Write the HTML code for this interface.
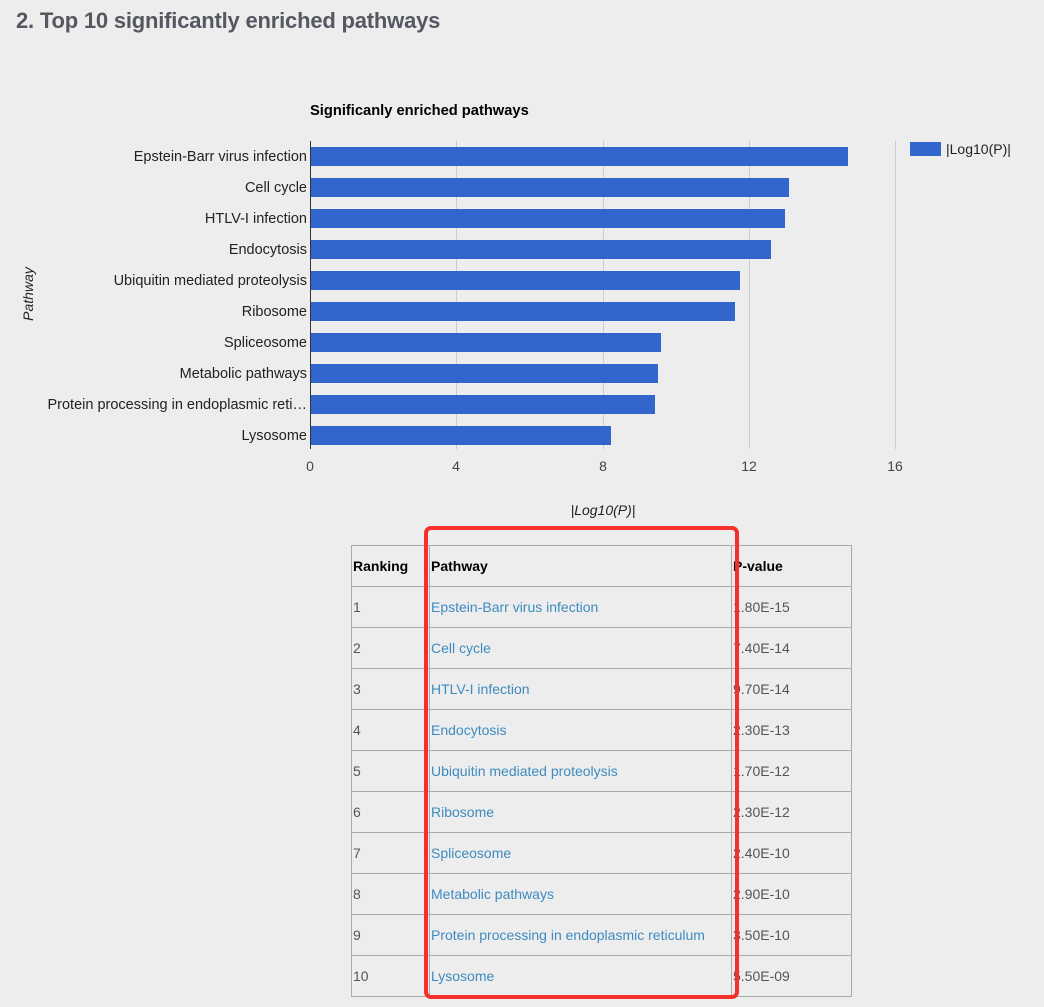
<!DOCTYPE html>
<html><head><style>
body{margin:0;width:1044px;height:1007px;background:#ededed;font-family:"Liberation Sans",sans-serif;position:relative;overflow:hidden}
h2{position:absolute;left:16px;top:8px;margin:0;font-size:22px;font-weight:bold;color:#555860;letter-spacing:-0.2px}
table{position:absolute;left:351px;top:545px;border-collapse:collapse;font-size:14px;color:#555;table-layout:fixed}
td,th{border:1px solid #aaa;height:40px;padding:0 0 0 1px;text-align:left;vertical-align:middle;white-space:nowrap;overflow:hidden}
th{color:#000;font-weight:bold}
td a{color:#3d8bbf;text-decoration:none}
.box{position:absolute;left:424px;top:526px;width:307px;height:465px;border:4px solid #f4302a;border-radius:7px}
</style></head><body>
<h2>2. Top 10 significantly enriched pathways</h2>
<svg width="1044" height="520" style="position:absolute;left:0;top:0" font-family="Liberation Sans, sans-serif">
<text x="310" y="115" font-size="14.7" font-weight="bold" fill="#000">Significanly enriched pathways</text>
<g stroke="#ccc" stroke-width="1">
<line x1="456.5" y1="141" x2="456.5" y2="449"/><line x1="603.5" y1="141" x2="603.5" y2="449"/><line x1="749.5" y1="141" x2="749.5" y2="449"/><line x1="895.5" y1="141" x2="895.5" y2="449"/>
</g>
<g fill="#3366cc">
<rect x="310" y="147" width="538" height="19"/>
<rect x="310" y="178" width="479" height="19"/>
<rect x="310" y="209" width="475" height="19"/>
<rect x="310" y="240" width="461" height="19"/>
<rect x="310" y="271" width="430" height="19"/>
<rect x="310" y="302" width="425" height="19"/>
<rect x="310" y="333" width="351" height="19"/>
<rect x="310" y="364" width="348" height="19"/>
<rect x="310" y="395" width="345" height="19"/>
<rect x="310" y="426" width="301" height="19"/>
</g>
<line x1="310.5" y1="141" x2="310.5" y2="449" stroke="#333"/>
<g font-size="14.5" fill="#222" text-anchor="end">
<text x="307" y="161">Epstein-Barr virus infection</text>
<text x="307" y="192">Cell cycle</text>
<text x="307" y="223">HTLV-I infection</text>
<text x="307" y="254">Endocytosis</text>
<text x="307" y="285">Ubiquitin mediated proteolysis</text>
<text x="307" y="316">Ribosome</text>
<text x="307" y="347">Spliceosome</text>
<text x="307" y="378">Metabolic pathways</text>
<text x="307" y="409">Protein processing in endoplasmic reti…</text>
<text x="307" y="440">Lysosome</text>
</g>
<g font-size="14" fill="#444" text-anchor="middle">
<text x="310" y="471">0</text><text x="456" y="471">4</text><text x="603" y="471">8</text><text x="749" y="471">12</text><text x="895" y="471">16</text>
</g>
<text x="603" y="515" font-size="14" font-style="italic" text-anchor="middle" fill="#222">|Log10(P)|</text>
<text transform="translate(33,294) rotate(-90)" font-size="14" font-style="italic" text-anchor="middle" fill="#222">Pathway</text>
<rect x="910" y="142" width="31" height="14" fill="#3366cc"/>
<text x="946" y="154" font-size="14" fill="#222">|Log10(P)|</text>
</svg>
<table>
<colgroup><col style="width:78px"><col style="width:302px"><col style="width:120px"></colgroup>
<tr><th>Ranking</th><th>Pathway</th><th>P-value</th></tr>
<tr><td>1</td><td><a>Epstein-Barr virus infection</a></td><td>1.80E-15</td></tr>
<tr><td>2</td><td><a>Cell cycle</a></td><td>7.40E-14</td></tr>
<tr><td>3</td><td><a>HTLV-I infection</a></td><td>9.70E-14</td></tr>
<tr><td>4</td><td><a>Endocytosis</a></td><td>2.30E-13</td></tr>
<tr><td>5</td><td><a>Ubiquitin mediated proteolysis</a></td><td>1.70E-12</td></tr>
<tr><td>6</td><td><a>Ribosome</a></td><td>2.30E-12</td></tr>
<tr><td>7</td><td><a>Spliceosome</a></td><td>2.40E-10</td></tr>
<tr><td>8</td><td><a>Metabolic pathways</a></td><td>2.90E-10</td></tr>
<tr><td>9</td><td><a>Protein processing in endoplasmic reticulum</a></td><td>3.50E-10</td></tr>
<tr><td>10</td><td><a>Lysosome</a></td><td>5.50E-09</td></tr>
</table>
<div class="box"></div>
</body></html>
